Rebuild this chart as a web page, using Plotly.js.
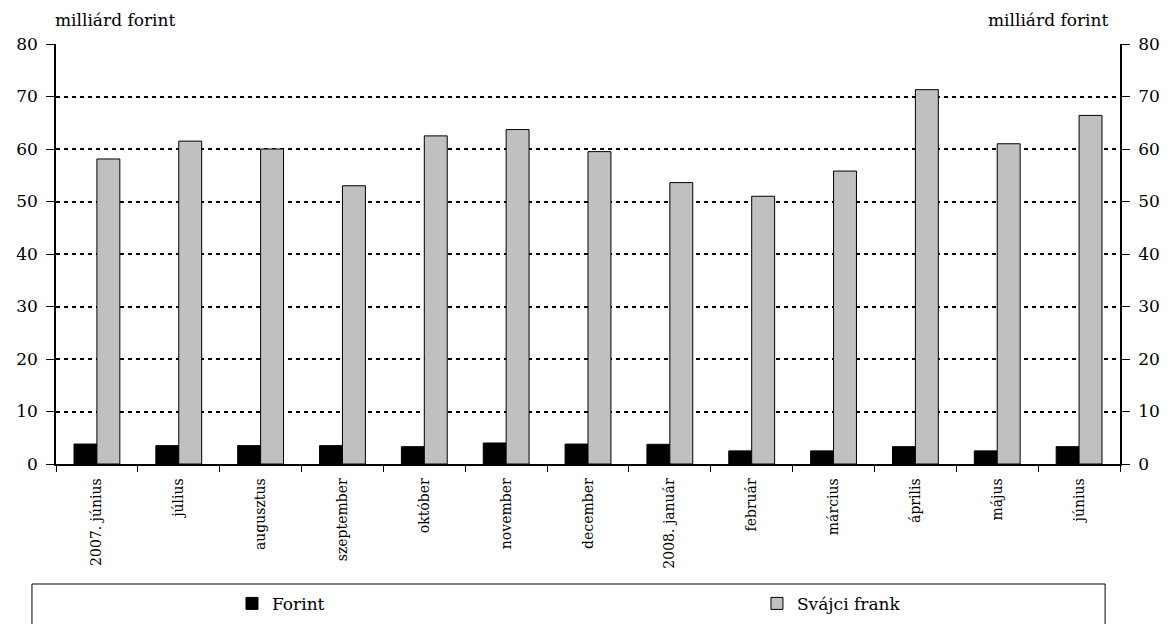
<!DOCTYPE html>
<html>
<head>
<meta charset="utf-8">
<script src="https://cdn.plot.ly/plotly-3.0.1.min.js"></script>
<style>html,body{margin:0;padding:0;background:#fff;}#chart{width:1172px;height:624px;}</style>
</head>
<body>
<div id="chart"></div>
<script>
const months = ["2007. június","július","augusztus","szeptember","október","november","december","2008. január","február","március","április","május","június"];
const forint = [3.8, 3.5, 3.5, 3.5, 3.3, 4.0, 3.8, 3.75, 2.5, 2.5, 3.3, 2.5, 3.3];
const svajciFrank = [58.1, 61.5, 60.0, 53.0, 62.5, 63.7, 59.5, 53.6, 51.0, 55.8, 71.3, 61.0, 66.4];
const yTicks = [0,10,20,30,40,50,60,70,80];
const unitLabel = "milliárd forint";

const FONT = "DejaVu Serif, Liberation Serif, serif";

const traces = [
  {type:"bar", name:"Forint", x:months, y:forint, legend:"legend",
   marker:{color:"#000000", line:{color:"#000000", width:1}}, hoverinfo:"x+y"},
  {type:"bar", name:"Svájci frank", x:months, y:svajciFrank, legend:"legend2",
   marker:{color:"#c0c0c0", line:{color:"#000000", width:1}}, hoverinfo:"x+y"},
  {type:"scatter", mode:"none", x:months, y:forint, yaxis:"y2", showlegend:false, hoverinfo:"skip"}
];

const yCommon = {
  range:[0,80], tickvals:yTicks, ticks:"outside", ticklen:8, tickwidth:1, tickcolor:"#000",
  showline:true, linecolor:"#000", linewidth:1.5, zeroline:false, automargin:false,
  tickfont:{family:FONT, size:17, color:"#000"}, ticklabelstandoff:5, fixedrange:true
};

const legendCommon = {orientation:"h", xanchor:"left", y:-0.333, yanchor:"middle",
  bgcolor:"rgba(0,0,0,0)", borderwidth:0, font:{family:FONT, size:17, color:"#000"}};

const layout = {
  width:1172, height:624,
  margin:{l:56, r:52, t:44, b:160, autoexpand:false},
  paper_bgcolor:"#fff", plot_bgcolor:"#fff",
  barmode:"group", bargap:0.44, bargroupgap:0,
  font:{family:FONT, color:"#000"},
  showlegend:true,
  legend:Object.assign({}, legendCommon, {x:0.1654}),
  legend2:Object.assign({}, legendCommon, {x:0.6588}),
  xaxis:{type:"category", tickson:"boundaries", ticks:"outside", ticklen:6, tickwidth:1, tickcolor:"#000",
    showline:true, linecolor:"#000", linewidth:1.5, tickangle:-90, automargin:false, ticklabelstandoff:7,
    tickfont:{family:FONT, size:14, color:"#000"}, showgrid:false, fixedrange:true},
  yaxis:Object.assign({}, yCommon, {side:"left", showgrid:true, gridcolor:"#000", gridwidth:2, griddash:"4px,4px"}),
  yaxis2:Object.assign({}, yCommon, {side:"right", overlaying:"y", showgrid:false}),
  annotations:[
    {text:unitLabel, xref:"paper", yref:"paper", x:-0.003, xanchor:"left", y:1.057, yanchor:"middle",
     showarrow:false, font:{family:FONT, size:17, color:"#000"}},
    {text:unitLabel, xref:"paper", yref:"paper", x:0.991, xanchor:"right", y:1.057, yanchor:"middle",
     showarrow:false, font:{family:FONT, size:17, color:"#000"}}
  ],
  shapes:[
    {type:"rect", xref:"paper", yref:"paper", x0:-0.0226, x1:0.986, y0:-0.2857, y1:-0.45,
     line:{color:"#000", width:1}, fillcolor:"rgba(0,0,0,0)"}
  ]
};

Plotly.newPlot("chart", traces, layout, {displayModeBar:false, staticPlot:false});
</script>
</body>
</html>
